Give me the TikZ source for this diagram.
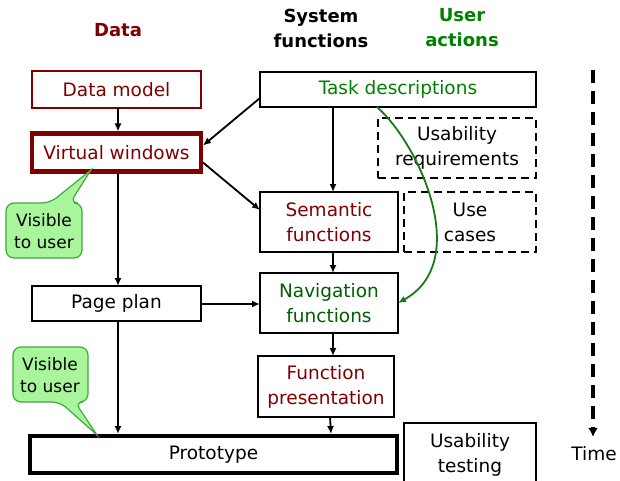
\documentclass[tikz,border=0pt]{standalone}
\usepackage{fontspec}
\setmainfont{DejaVu Sans}
\usetikzlibrary{arrows.meta,calc}
\definecolor{datared}{HTML}{800000}
\definecolor{actgreen}{HTML}{008000}
\definecolor{navgreen}{HTML}{005F00}
\definecolor{flowgreen}{HTML}{1A7A1A}
\definecolor{tipfill}{HTML}{A8F59C}
\definecolor{tipline}{HTML}{3DAA3D}
\begin{document}
\begin{tikzpicture}[x=1pt,y=-1pt,
  every node/.style={font=\fontsize{18.5}{25}\selectfont, inner sep=0pt, outer sep=0pt, align=center},
  head/.style={font=\fontsize{18}{25}\selectfont\bfseries},
  stepbox/.style={draw, line width=2pt, fill=white},
  dashbox/.style={draw, line width=2pt, dash pattern=on 8pt off 5pt},
  arr/.style={line width=1.8pt, -{Latex[length=8pt,width=7pt]}},
  tip/.style={fill=tipfill, draw=tipline, line width=1.2pt},
  tiptext/.style={font=\fontsize{17}{22}\selectfont}]
\useasboundingbox (0,0) rectangle (620,481);

% column headings
\node[head, text=datared] (hdata) at (118,30) {Data};
\node[head] (hsys) at (321,28) {System\\functions};
\node[head, text=actgreen] (huser) at (462,28) {User\\actions};

% boxes
\node[stepbox, draw=datared, text=datared, minimum width=169pt, minimum height=37pt] (dm) at (116.5,89.5) {Data model};
\node[stepbox, draw=datared, line width=4.5pt, text=datared, minimum width=169pt, minimum height=38pt] (vw) at (116.5,152.5) {Virtual windows};
\node[stepbox, text=actgreen, minimum width=276pt, minimum height=35pt] (td) at (398,89.5) {Task descriptions};
\node[dashbox, minimum width=158pt, minimum height=60pt] (ur) at (457,148) {Usability\\requirements};
\node[stepbox, text=datared, minimum width=138pt, minimum height=60pt] (sf) at (329,222) {Semantic\\functions};
\node[dashbox, minimum width=132pt, minimum height=60pt] (uc) at (470,222) {Use\\cases};
\node[stepbox, minimum width=169pt, minimum height=35pt] (pp) at (116.5,303.5) {Page plan};
\node[stepbox, text=navgreen, minimum width=138pt, minimum height=60pt] (nf) at (329,303) {Navigation\\functions};
\node[stepbox, text=datared, minimum width=136pt, minimum height=61pt] (fp) at (326,386.5) {Function\\presentation};
\node[stepbox, line width=4.5pt, minimum width=367pt, minimum height=37pt] (pr) at (213.5,454.5) {Prototype};
\node[stepbox, minimum width=132pt, minimum height=64pt] (ut) at (470,455) {Usability\\testing};

% connectors
\draw[arr] ($(dm.south)+(1.5,0)$) -- ($(vw.north)+(1.5,-2)$);
\draw[arr] ($(td.south west)+(0,-9)$) -- ($(vw.north east)+(2,12)$);
\draw[arr] ($(vw.south east)+(2,-9)$) -- ($(sf.north west)+(0,18)$);
\draw[arr] ($(td.south)+(-65,0)$) -- ($(sf.north)+(4,0)$);
\draw[arr] ($(sf.south)+(4,0)$) -- ($(nf.north)+(4,0)$);
\draw[arr] ($(nf.south)+(4,0)$) -- ($(fp.north)+(7,0)$);
\draw[arr] ($(fp.south)+(4,0)$) -- ($(pr.north east)+(-66,-2)$);
\draw[arr] ($(vw.south)+(1.5,2)$) -- ($(pp.north)+(1.5,0)$);
\draw[arr] ($(pp.east)+(0,0.5)$) -- ($(nf.west)+(0,1)$);
\draw[arr] ($(pp.south)+(1.5,0)$) -- ($(pp.south)+(1.5,113)$);
\draw[arr, draw=flowgreen] ($(td.south)+(-21,0)$) .. controls (420,145) and (472,262) .. ($(nf.east)+(0,0)$);

% time axis
\coordinate (t0) at (593,70);
\node (time) at (594,454) {Time};
\draw[line width=3.5pt, dash pattern=on 13pt off 8pt, -{Latex[length=9pt,width=10pt]}] (t0) -- ($(time.north)+(-1,-10)$);

% callouts
\path[tip] (82,225) [rounded corners=8pt] -- (82,203) -- (70,203) [sharp corners] -- (91,170) [rounded corners=8pt] -- (50,203) -- (6,203) -- (6,258) -- (82,258) -- cycle;
\node[tiptext] (c1) at (44,231) {Visible\\to user};
\path[tip] (88,370) [rounded corners=8pt] -- (88,402) -- (75,402) [sharp corners] -- (97,435) [rounded corners=8pt] -- (60,402) -- (13,402) -- (13,347) -- (88,347) -- cycle;
\node[tiptext] (c2) at (50,375) {Visible\\to user};
\end{tikzpicture}
\end{document}
